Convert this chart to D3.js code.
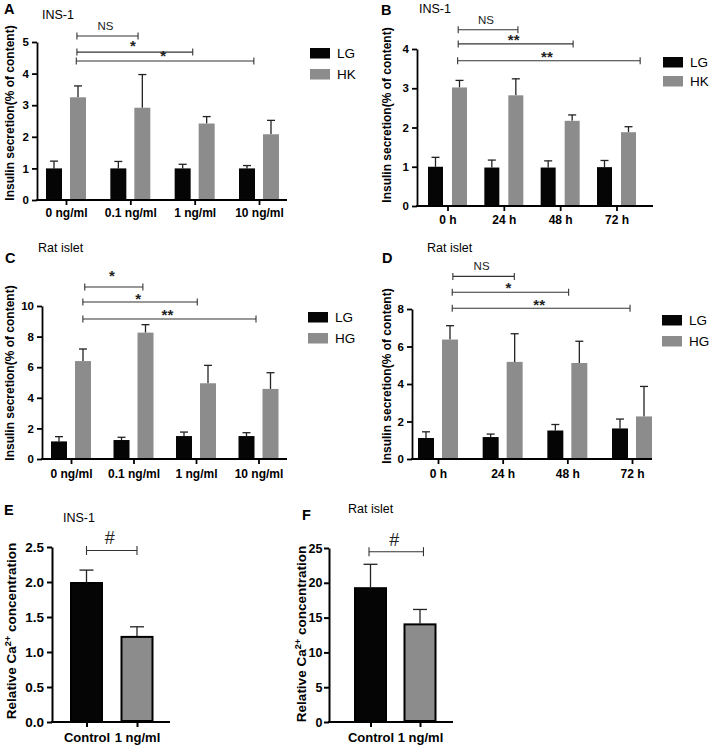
<!DOCTYPE html>
<html><head><meta charset="utf-8">
<script src="https://cdn.jsdelivr.net/npm/d3@7/dist/d3.min.js"></script>
<style>
body{margin:0;background:#fff;}
svg{display:block;font-family:"Liberation Sans",Arial,sans-serif;}
</style></head>
<body>
<script>
// ---------- DATA ----------
const catsDose = ["0 ng/ml", "0.1 ng/ml", "1 ng/ml", "10 ng/ml"];
const catsTime = ["0 h", "24 h", "48 h", "72 h"];
const catsCa = ["Control", "1 ng/ml"];

// Panel A (INS-1, dose)
const aLG = [1.0, 1.0, 1.0, 1.0];
const aLGerr = [0.23, 0.22, 0.13, 0.09];
const aHK = [3.25, 2.92, 2.42, 2.08];
const aHKerr = [0.36, 1.05, 0.22, 0.44];
const aTicks = [0, 1, 2, 3, 4, 5];
const aSig = [
  {a: 0.17, b: 1.12, y: 5.19, ly: 5.38, t: "NS"},
  {a: 0.17, b: 1.97, y: 4.68, ly: 4.70, t: "*"},
  {a: 0.16, b: 2.92, y: 4.40, ly: 4.40, t: "*"}
];

// Panel B (INS-1, time)
const bLG = [1.0, 0.98, 0.98, 0.99];
const bLGerr = [0.24, 0.19, 0.17, 0.17];
const bHK = [3.02, 2.82, 2.17, 1.88];
const bHKerr = [0.18, 0.42, 0.15, 0.14];
const bTicks = [0, 1, 2, 3, 4];
const bSig = [
  {a: 0.19, b: 1.25, y: 4.49, ly: 4.64, t: "NS"},
  {a: 0.19, b: 2.23, y: 4.13, ly: 4.09, t: "**"},
  {a: 0.18, b: 3.42, y: 3.70, ly: 3.67, t: "**"}
];

// Panel C (Rat islet, dose)
const cLG = [1.15, 1.24, 1.50, 1.50];
const cLGerr = [0.31, 0.18, 0.26, 0.22];
const cHG = [6.40, 8.26, 4.95, 4.58];
const cHGerr = [0.79, 0.52, 1.17, 1.06];
const cTicks = [0, 2, 4, 6, 8, 10];
const cSig = [
  {a: 0.22, b: 1.15, y: 11.24, ly: 11.63, t: "*"},
  {a: 0.19, b: 2.02, y: 10.26, ly: 10.12, t: "*"},
  {a: 0.19, b: 2.96, y: 9.15, ly: 9.06, t: "**"}
];

// Panel D (Rat islet, time)
const dLG = [1.12, 1.17, 1.52, 1.63];
const dLGerr = [0.33, 0.16, 0.32, 0.50];
const dHG = [6.37, 5.18, 5.12, 2.27];
const dHGerr = [0.74, 1.50, 1.16, 1.60];
const dTicks = [0, 2, 4, 6, 8];
const dSig = [
  {a: 0.23, b: 1.18, y: 9.74, ly: 10.06, t: "NS"},
  {a: 0.22, b: 2.02, y: 8.89, ly: 8.85, t: "*"},
  {a: 0.22, b: 2.97, y: 8.04, ly: 7.95, t: "**"}
];

// Panel E (INS-1, Ca2+)
const eVals = [2.00, 1.23];
const eErr = [0.17, 0.13];
const eTicks = [0, 0.5, 1.0, 1.5, 2.0, 2.5];
const eSig = [{a: 0, b: 1, y: 2.45, ly: 2.54, t: "#"}];

// Panel F (Rat islet, Ca2+)
const fVals = [19.37, 14.17];
const fErr = [3.29, 2.00];
const fTicks = [0, 5, 10, 15, 20, 25];
const fSig = [{a: -0.03, b: 1.07, y: 24.47, ly: 25.33, t: "#"}];

// ---------- DRAWING ----------
const BLACK = "#050505", GRAY = "#8c8c8c";
const svg = d3.select("body").append("svg").attr("width", 709).attr("height", 746);

function panel(o) {
  const g = svg.append("g");
  const y = d3.scaleLinear().domain([0, o.ymax]).range([o.y0, o.yTop]);
  const x = d3.scalePoint().domain(o.cats).range([o.cx0, o.cx1]);
  const step = o.cats.length > 1 ? x.step() : 0;

  // bars + error bars
  o.series.forEach(s => {
    const sg = g.append("g");
    sg.selectAll("line.err").data(s.vals).join("line")
      .attr("x1", (d, i) => x(o.cats[i]) + s.off).attr("x2", (d, i) => x(o.cats[i]) + s.off)
      .attr("y1", d => y(d)).attr("y2", (d, i) => y(d + s.errs[i]))
      .attr("stroke", "#222").attr("stroke-width", o.errW);
    sg.selectAll("line.cap").data(s.vals).join("line")
      .attr("x1", (d, i) => x(o.cats[i]) + s.off - o.cap / 2).attr("x2", (d, i) => x(o.cats[i]) + s.off + o.cap / 2)
      .attr("y1", (d, i) => y(d + s.errs[i])).attr("y2", (d, i) => y(d + s.errs[i]))
      .attr("stroke", "#222").attr("stroke-width", o.errW);
    sg.selectAll("rect").data(s.vals).join("rect")
      .attr("x", (d, i) => x(o.cats[i]) + s.off - o.bw / 2 + (o.stroke ? o.stroke / 2 : 0))
      .attr("width", o.bw - (o.stroke ? o.stroke : 0))
      .attr("y", d => y(d) + (o.stroke ? o.stroke / 2 : 0))
      .attr("height", d => y(0) - y(d) - (o.stroke ? o.stroke : 0))
      .attr("fill", (d, i) => s.colors ? s.colors[i] : s.color)
      .attr("stroke", o.stroke ? "#000" : "none").attr("stroke-width", o.stroke || 0);
  });

  // y axis
  const ya = g.append("g").attr("transform", `translate(${o.x0},0)`)
    .call(d3.axisLeft(y).tickValues(o.ticks).tickFormat(o.fmt || d3.format("d"))
      .tickSize(5).tickSizeOuter(0).tickPadding(o.tickPad || 3));
  ya.select(".domain").attr("stroke", "#000").attr("stroke-width", o.axW);
  ya.selectAll(".tick line").attr("stroke", "#000").attr("stroke-width", o.axW);
  ya.selectAll("text").attr("font-size", o.tickFs).attr("font-weight", "bold").attr("fill", "#000");
  ya.attr("font-family", null).attr("font-size", null);

  // x axis
  const xa = g.append("g").attr("transform", `translate(0,${o.y0})`)
    .call(d3.axisBottom(x).tickSize(5).tickSizeOuter(0).tickPadding(o.xPad));
  xa.select(".domain").remove();
  xa.selectAll(".tick line").attr("stroke", "#000").attr("stroke-width", o.axW);
  xa.selectAll("text").attr("font-size", o.catFs).attr("font-weight", "bold").attr("fill", "#000");
  xa.attr("font-family", null).attr("font-size", null);
  g.append("line").attr("x1", o.x0 - o.axW / 2).attr("x2", o.x1).attr("y1", o.y0).attr("y2", o.y0)
    .attr("stroke", "#000").attr("stroke-width", o.axW);

  // y label
  const yl = g.append("text")
    .attr("transform", `translate(${o.ylX},${o.ylY}) rotate(-90)`)
    .attr("text-anchor", "middle").attr("font-weight", "bold").attr("font-size", o.ylFs).attr("fill", "#000");
  if (o.ylabelParts) {
    o.ylabelParts.forEach(p => {
      const ts = yl.append("tspan").text(p.t);
      if (p.sup) ts.attr("font-size", o.ylFs * 0.68).attr("dy", -o.ylFs * 0.38);
      if (p.after) ts.attr("dy", o.ylFs * 0.38);
    });
  } else yl.text(o.ylabel);

  // significance brackets
  const bx = v => x(o.cats[0]) + v * step;
  const sg = g.append("g").attr("stroke", "#333").attr("stroke-width", 1.1);
  o.sig.forEach(s => {
    const yy = y(s.y);
    sg.append("line").attr("x1", bx(s.a)).attr("x2", bx(s.b)).attr("y1", yy).attr("y2", yy);
    sg.append("line").attr("x1", bx(s.a)).attr("x2", bx(s.a)).attr("y1", yy - o.capH).attr("y2", yy + o.capH);
    sg.append("line").attr("x1", bx(s.b)).attr("x2", bx(s.b)).attr("y1", yy - o.capH).attr("y2", yy + o.capH);
    g.append("text").attr("x", (bx(s.a) + bx(s.b)) / 2 - 2).attr("y", y(s.ly))
      .attr("text-anchor", "middle").attr("fill", "#222")
      .attr("font-size", s.t === "#" ? 18 : (s.t === "NS" ? 11.5 : 15))
      .attr("font-weight", s.t.startsWith("*") ? "bold" : "normal")
      .text(s.t);
  });

  // legend
  if (o.legend) {
    o.legend.labels.forEach((lab, i) => {
      g.append("rect").attr("x", o.legend.x).attr("y", o.legend.ys[i]).attr("width", 20).attr("height", 10.5)
        .attr("fill", o.series[i].color);
      g.append("text").attr("x", o.legend.x + 27).attr("y", o.legend.ys[i] + 10)
        .attr("font-size", 13.5).attr("fill", "#000").text(lab);
    });
  }

  // panel letter + title
  g.append("text").attr("x", o.letter[1]).attr("y", o.letter[2]).attr("font-weight", "bold")
    .attr("font-size", 14.5).attr("fill", "#000").text(o.letter[0]);
  g.append("text").attr("x", o.title[1]).attr("y", o.title[2])
    .attr("font-size", 12.5).attr("fill", "#000").text(o.title[0]);
}

const common = {errW: 1.3, cap: 8, capH: 3.5, axW: 1.8, tickFs: 11.5, catFs: 12, ylFs: 12, bw: 16, xPad: 3};

panel(Object.assign({}, common, {
  cats: catsDose, ymax: 5, ticks: aTicks, x0: 37, x1: 287, y0: 200, yTop: 42, cx0: 66, cx1: 259,
  series: [{vals: aLG, errs: aLGerr, color: BLACK, off: -12}, {vals: aHK, errs: aHKerr, color: GRAY, off: 12}],
  sig: aSig, legend: {x: 310, ys: [48, 69], labels: ["LG", "HK"]},
  ylabel: "Insulin secretion(% of content)", ylX: 14, ylY: 113,
  letter: ["A", 4, 14], title: ["INS-1", 42, 19]
}));

panel(Object.assign({}, common, {
  cats: catsTime, ymax: 4, ticks: bTicks, x0: 417, x1: 653, y0: 206, yTop: 49, cx0: 447.5, cx1: 616.5, bw: 15,
  series: [{vals: bLG, errs: bLGerr, color: BLACK, off: -12}, {vals: bHK, errs: bHKerr, color: GRAY, off: 12}],
  sig: bSig, legend: {x: 663, ys: [57, 76], labels: ["LG", "HK"]}, xPad: 4,
  ylabel: "Insulin secretion(% of content)", ylX: 391, ylY: 115,
  letter: ["B", 381, 15], title: ["INS-1", 419, 13]
}));

panel(Object.assign({}, common, {
  cats: catsDose, ymax: 10, ticks: cTicks, x0: 42, x1: 287, y0: 459, yTop: 306, cx0: 71, cx1: 258.5,
  series: [{vals: cLG, errs: cLGerr, color: BLACK, off: -12}, {vals: cHG, errs: cHGerr, color: GRAY, off: 12}],
  sig: cSig, legend: {x: 308, ys: [312, 333], labels: ["LG", "HG"]}, xPad: 5,
  ylabel: "Insulin secretion(% of content)", ylX: 14, ylY: 373,
  letter: ["C", 5, 263], title: ["Rat islet", 38, 252]
}));

panel(Object.assign({}, common, {
  cats: catsTime, ymax: 8, ticks: dTicks, x0: 412, x1: 652, y0: 459, yTop: 309, cx0: 438, cx1: 632,
  series: [{vals: dLG, errs: dLGerr, color: BLACK, off: -12}, {vals: dHG, errs: dHGerr, color: GRAY, off: 12}],
  sig: dSig, legend: {x: 662, ys: [315, 336], labels: ["LG", "HG"]}, xPad: 5,
  ylabel: "Insulin secretion(% of content)", ylX: 391, ylY: 376,
  letter: ["D", 382, 263], title: ["Rat islet", 427, 252]
}));

const caLabel = [{t: "Relative Ca"}, {t: "2+", sup: true}, {t: " concentration", after: true}];

panel(Object.assign({}, common, {
  cats: catsCa, ymax: 2.5, ticks: eTicks, fmt: d3.format(".1f"), x0: 52, x1: 170, y0: 722, yTop: 547,
  cx0: 86.5, cx1: 137, bw: 33, stroke: 2, cap: 14, capH: 4.5, axW: 2, catFs: 13, xPad: 6, tickFs: 13.5,
  series: [{vals: eVals, errs: eErr, color: BLACK, colors: [BLACK, GRAY], off: 0}],
  sig: eSig, ylabelParts: caLabel, ylFs: 13.5, ylX: 16, ylY: 631,
  letter: ["E", 4, 515], title: ["INS-1", 63, 522]
}));

panel(Object.assign({}, common, {
  cats: catsCa, ymax: 25, ticks: fTicks, x0: 329, x1: 453, y0: 722, yTop: 548,
  cx0: 370.5, cx1: 420, bw: 33, stroke: 2, cap: 14, capH: 4.5, axW: 2, catFs: 13, xPad: 6, tickFs: 12.5, tickPad: 1.5,
  series: [{vals: fVals, errs: fErr, color: BLACK, colors: [BLACK, GRAY], off: 0}],
  sig: fSig, ylabelParts: caLabel, ylFs: 13.5, ylX: 306, ylY: 634,
  letter: ["F", 302, 520], title: ["Rat islet", 348, 513]
}));
</script>
</body></html>
